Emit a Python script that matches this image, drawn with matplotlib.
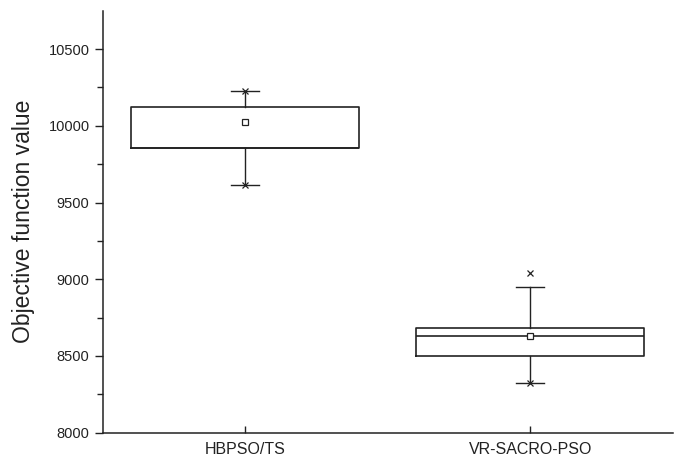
import matplotlib
matplotlib.use("Agg")
import matplotlib.pyplot as plt

plt.rcParams['font.family'] = ['Liberation Sans', 'DejaVu Sans']

# box statistics
labels = ['HBPSO/TS', 'VR-SACRO-PSO']
whislo = [9614, 8324]
q1 = [9853, 8497]
med = [9853, 8628]
q3 = [10123, 8682]
whishi = [10225, 8948]
means = [10026, 8628]
outliers = [[], [9039]]

stats = []
for i in range(len(labels)):
    stats.append(dict(label=labels[i], whislo=whislo[i], q1=q1[i], med=med[i],
                      q3=q3[i], whishi=whishi[i], mean=means[i], fliers=outliers[i]))

col = '#222222'
fig = plt.figure(figsize=(6.83, 4.62), dpi=100)
ax = fig.add_axes([0.1504, 0.0634, 0.8346, 0.9134])

pos = [1, 2]
ax.bxp(stats, positions=pos, widths=0.8, capwidths=0.1, showmeans=True,
       boxprops=dict(color=col, linewidth=1.2),
       medianprops=dict(color=col, linewidth=1.2),
       whiskerprops=dict(color=col, linewidth=1.0),
       capprops=dict(color=col, linewidth=1.0),
       meanprops=dict(marker='s', markerfacecolor='white', markeredgecolor=col,
                      markersize=4, markeredgewidth=0.9),
       flierprops=dict(marker='x', markeredgecolor=col, markersize=4.5,
                       markeredgewidth=0.9))

# min / max markers at whisker ends
ax.plot(pos, whislo, 'x', color=col, markersize=5, markeredgewidth=0.9, zorder=4)
ax.plot(pos[:1], whishi[:1], 'x', color=col, markersize=5, markeredgewidth=0.9, zorder=4)

ax.set_xlim(0.5, 2.5)
ax.set_ylim(8000, 10750)
ax.set_yticks([8000, 8500, 9000, 9500, 10000, 10500])
ax.set_yticks(range(8250, 10750, 500), minor=True)
ax.set_xticks(pos)
ax.set_xticklabels(labels)

for s in ['top', 'right']:
    ax.spines[s].set_visible(False)
for s in ['left', 'bottom']:
    ax.spines[s].set_linewidth(1.1)
    ax.spines[s].set_color(col)

ax.tick_params(axis='y', which='major', direction='out', length=6, width=1, labelsize=10.5, colors=col)
ax.tick_params(axis='y', which='minor', direction='out', length=4, width=1, colors=col)
ax.tick_params(axis='x', direction='in', length=5, width=1, labelsize=11.5, colors=col, pad=7)

ax.set_ylabel('Objective function value', fontsize=16.5, color=col, labelpad=10)

fig.savefig('out.png', dpi=100)
